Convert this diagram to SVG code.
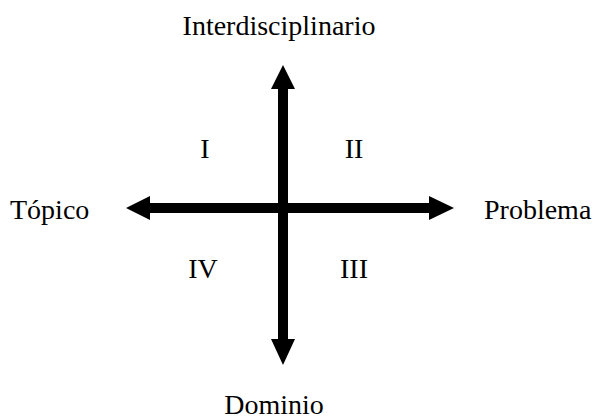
<svg xmlns="http://www.w3.org/2000/svg" width="597" height="418" viewBox="0 0 597 418">
<style>
text{font-family:"Liberation Serif","Times New Roman",serif;font-size:28px;fill:#000}
.c{text-anchor:middle}
</style>
<rect width="597" height="418" fill="#fff"/>
<g id="connectors" fill="#000">
<rect x="149" y="203" width="281" height="10"/>
<rect x="278" y="88" width="10" height="252"/>
<polygon points="283,65 271,89 295,89"/>
<polygon points="283,365 271,339 295,339"/>
<polygon points="126,208 150,196 150,220"/>
<polygon points="454,208 429,196 429,220"/>
</g>
<g id="top"><text x="279" y="35" class="c">Interdisciplinario</text></g>
<g id="left"><text x="10" y="219">Tópico</text></g>
<g id="right"><text x="484" y="219">Problema</text></g>
<g id="bottom"><text x="274" y="414" class="c">Dominio</text></g>
<g id="q1"><text x="205" y="158" class="c">I</text></g>
<g id="q2"><text x="354" y="158" class="c">II</text></g>
<g id="q4"><text x="203" y="278" class="c">IV</text></g>
<g id="q3"><text x="354" y="278" class="c">III</text></g>
</svg>
